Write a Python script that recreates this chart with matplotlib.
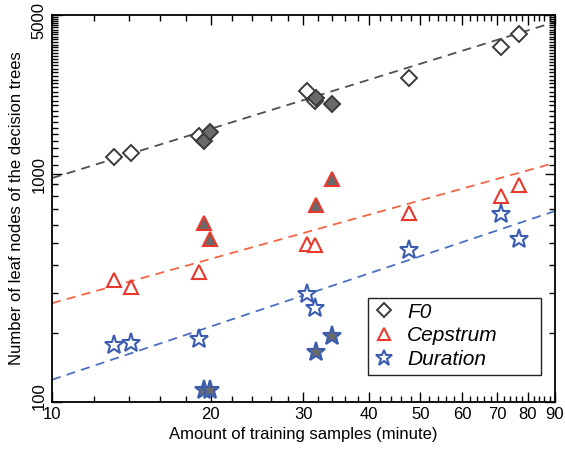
import matplotlib
matplotlib.use("Agg")
import matplotlib.pyplot as plt
import matplotlib.transforms as mtransforms
import numpy as np
from matplotlib.ticker import FixedLocator, FixedFormatter, NullFormatter
from matplotlib.lines import Line2D
from matplotlib.patches import Rectangle

plt.rcParams['font.family'] = ['Liberation Sans', 'DejaVu Sans']

# Data (minutes of training data, number of leaf nodes)
x_open = [13.14, 14.15, 19.0, 30.5, 31.55, 47.6, 71.0, 77.1]
x_filled = [19.42, 19.93, 31.7, 33.97]

f0_open = [1186, 1235, 1466, 2304, 2084, 2652, 3622, 4128]
f0_filled = [1393, 1526, 2147, 2022]

cep_open = [344, 318, 370, 495, 490, 676, 802, 895]
cep_filled = [611, 520, 732, 951]

dur_open = [177, 181, 188, 296, 257, 466, 669, 520]
dur_filled = [113, 113, 165, 194]

# Fitted power laws: y = a * (x/10)^b
f0_fit = [960, 0.718]
cep_fit = [271, 0.646]
dur_fit = [125, 0.776]

x_ticks = [10, 20, 30, 40, 50, 60, 70, 80, 90]
y_ticks = [100, 1000, 5000]
labels = ['F0', 'Cepstrum', 'Duration']

fig = plt.figure(figsize=(5.65, 4.5), dpi=100)
ax = fig.add_axes([0.092, 0.107, 0.890, 0.860])

gray_e, gray_f, gray_l = '#3a3a3a', '#6a6a6a', '#505050'
red_e, red_l = '#e8392c', '#f26644'
blue_e, blue_l = '#3b5cb0', '#4c6fc4'

xf = np.array([10, 90])
for (a, b), c in [(f0_fit, gray_l), (cep_fit, red_l), (dur_fit, blue_l)]:
    ax.plot(xf, a * (xf / 10) ** b, linestyle=(0, (5, 3.5)), color=c, lw=1.3, zorder=1)

ax.plot(x_open, f0_open, 'D', ms=8.5, mfc='white', mec=gray_e, mew=1.4, ls='none', zorder=3)
ax.plot(x_filled, f0_filled, 'D', ms=8.5, mfc=gray_f, mec=gray_e, mew=1.4, ls='none', zorder=3)
ax.plot(x_open, cep_open, '^', ms=10, mfc='white', mec=red_e, mew=1.5, ls='none', zorder=3)
ax.plot(x_filled, cep_filled, '^', ms=10, mfc=gray_f, mec=red_e, mew=1.5, ls='none', zorder=3)
ax.plot(x_open, dur_open, '*', ms=14, mfc='white', mec=blue_e, mew=1.5, ls='none', zorder=3)
ax.plot(x_filled, dur_filled, '*', ms=14, mfc=gray_f, mec=blue_e, mew=1.5, ls='none', zorder=3)

ax.set_xscale('log')
ax.set_yscale('log')
ax.set_xlim(10, 90)
ax.set_ylim(100, 5000)

ax.xaxis.set_major_locator(FixedLocator(x_ticks))
ax.xaxis.set_major_formatter(FixedFormatter([str(v) for v in x_ticks]))
ax.xaxis.set_minor_locator(FixedLocator([v for v in range(12, 90, 2) if v % 10 != 0]))
ax.xaxis.set_minor_formatter(NullFormatter())

ax.yaxis.set_major_locator(FixedLocator(y_ticks))
ax.yaxis.set_major_formatter(FixedFormatter([str(v) for v in y_ticks]))
ymin = list(range(200, 1000, 100)) + [v for v in range(1100, 5000, 100)]
ax.yaxis.set_minor_locator(FixedLocator(ymin))
ax.yaxis.set_minor_formatter(NullFormatter())

ax.tick_params(which='both', direction='in', top=True, right=True, labelsize=12, width=1.0)
ax.tick_params(which='major', length=7)
ax.tick_params(which='minor', length=4)
ax.tick_params(axis='x', pad=4)
ax.tick_params(axis='y', pad=4)

fig.canvas.draw()
ylabs = ax.get_yticklabels()
for lab in ylabs:
    lab.set_rotation(90)
    lab.set_va('center')
# nudge end labels inward slightly
ylabs[0].set_transform(ylabs[0].get_transform() + mtransforms.ScaledTranslation(0, 4/72, fig.dpi_scale_trans))
ylabs[-1].set_transform(ylabs[-1].get_transform() + mtransforms.ScaledTranslation(0, -4/72, fig.dpi_scale_trans))

for s in ax.spines.values():
    s.set_linewidth(1.3)

ax.set_xlabel('Amount of training samples (minute)', fontsize=12, labelpad=3)
ax.set_ylabel('Number of leaf nodes of the decision trees', fontsize=12, labelpad=5)

handles = [
    Line2D([], [], marker='D', ms=7, mfc='white', mec=gray_e, mew=1.4, ls='none'),
    Line2D([], [], marker='^', ms=9, mfc='white', mec=red_e, mew=1.5, ls='none'),
    Line2D([], [], marker='*', ms=12, mfc='white', mec=blue_e, mew=1.5, ls='none'),
]
leg = ax.legend(handles, labels, loc='upper left',
                bbox_to_anchor=(0.640, 0.256), prop={'style': 'italic', 'size': 15},
                frameon=False, handlelength=1.0,
                handletextpad=0.6, borderpad=0.0, labelspacing=0.22, borderaxespad=0)
ax.add_patch(Rectangle((0.628, 0.070), 0.344, 0.199, transform=ax.transAxes,
                       fill=True, facecolor='white', edgecolor='#222222', lw=1.0, zorder=4))
leg.set_zorder(5)

fig.savefig('out.png', dpi=100)
